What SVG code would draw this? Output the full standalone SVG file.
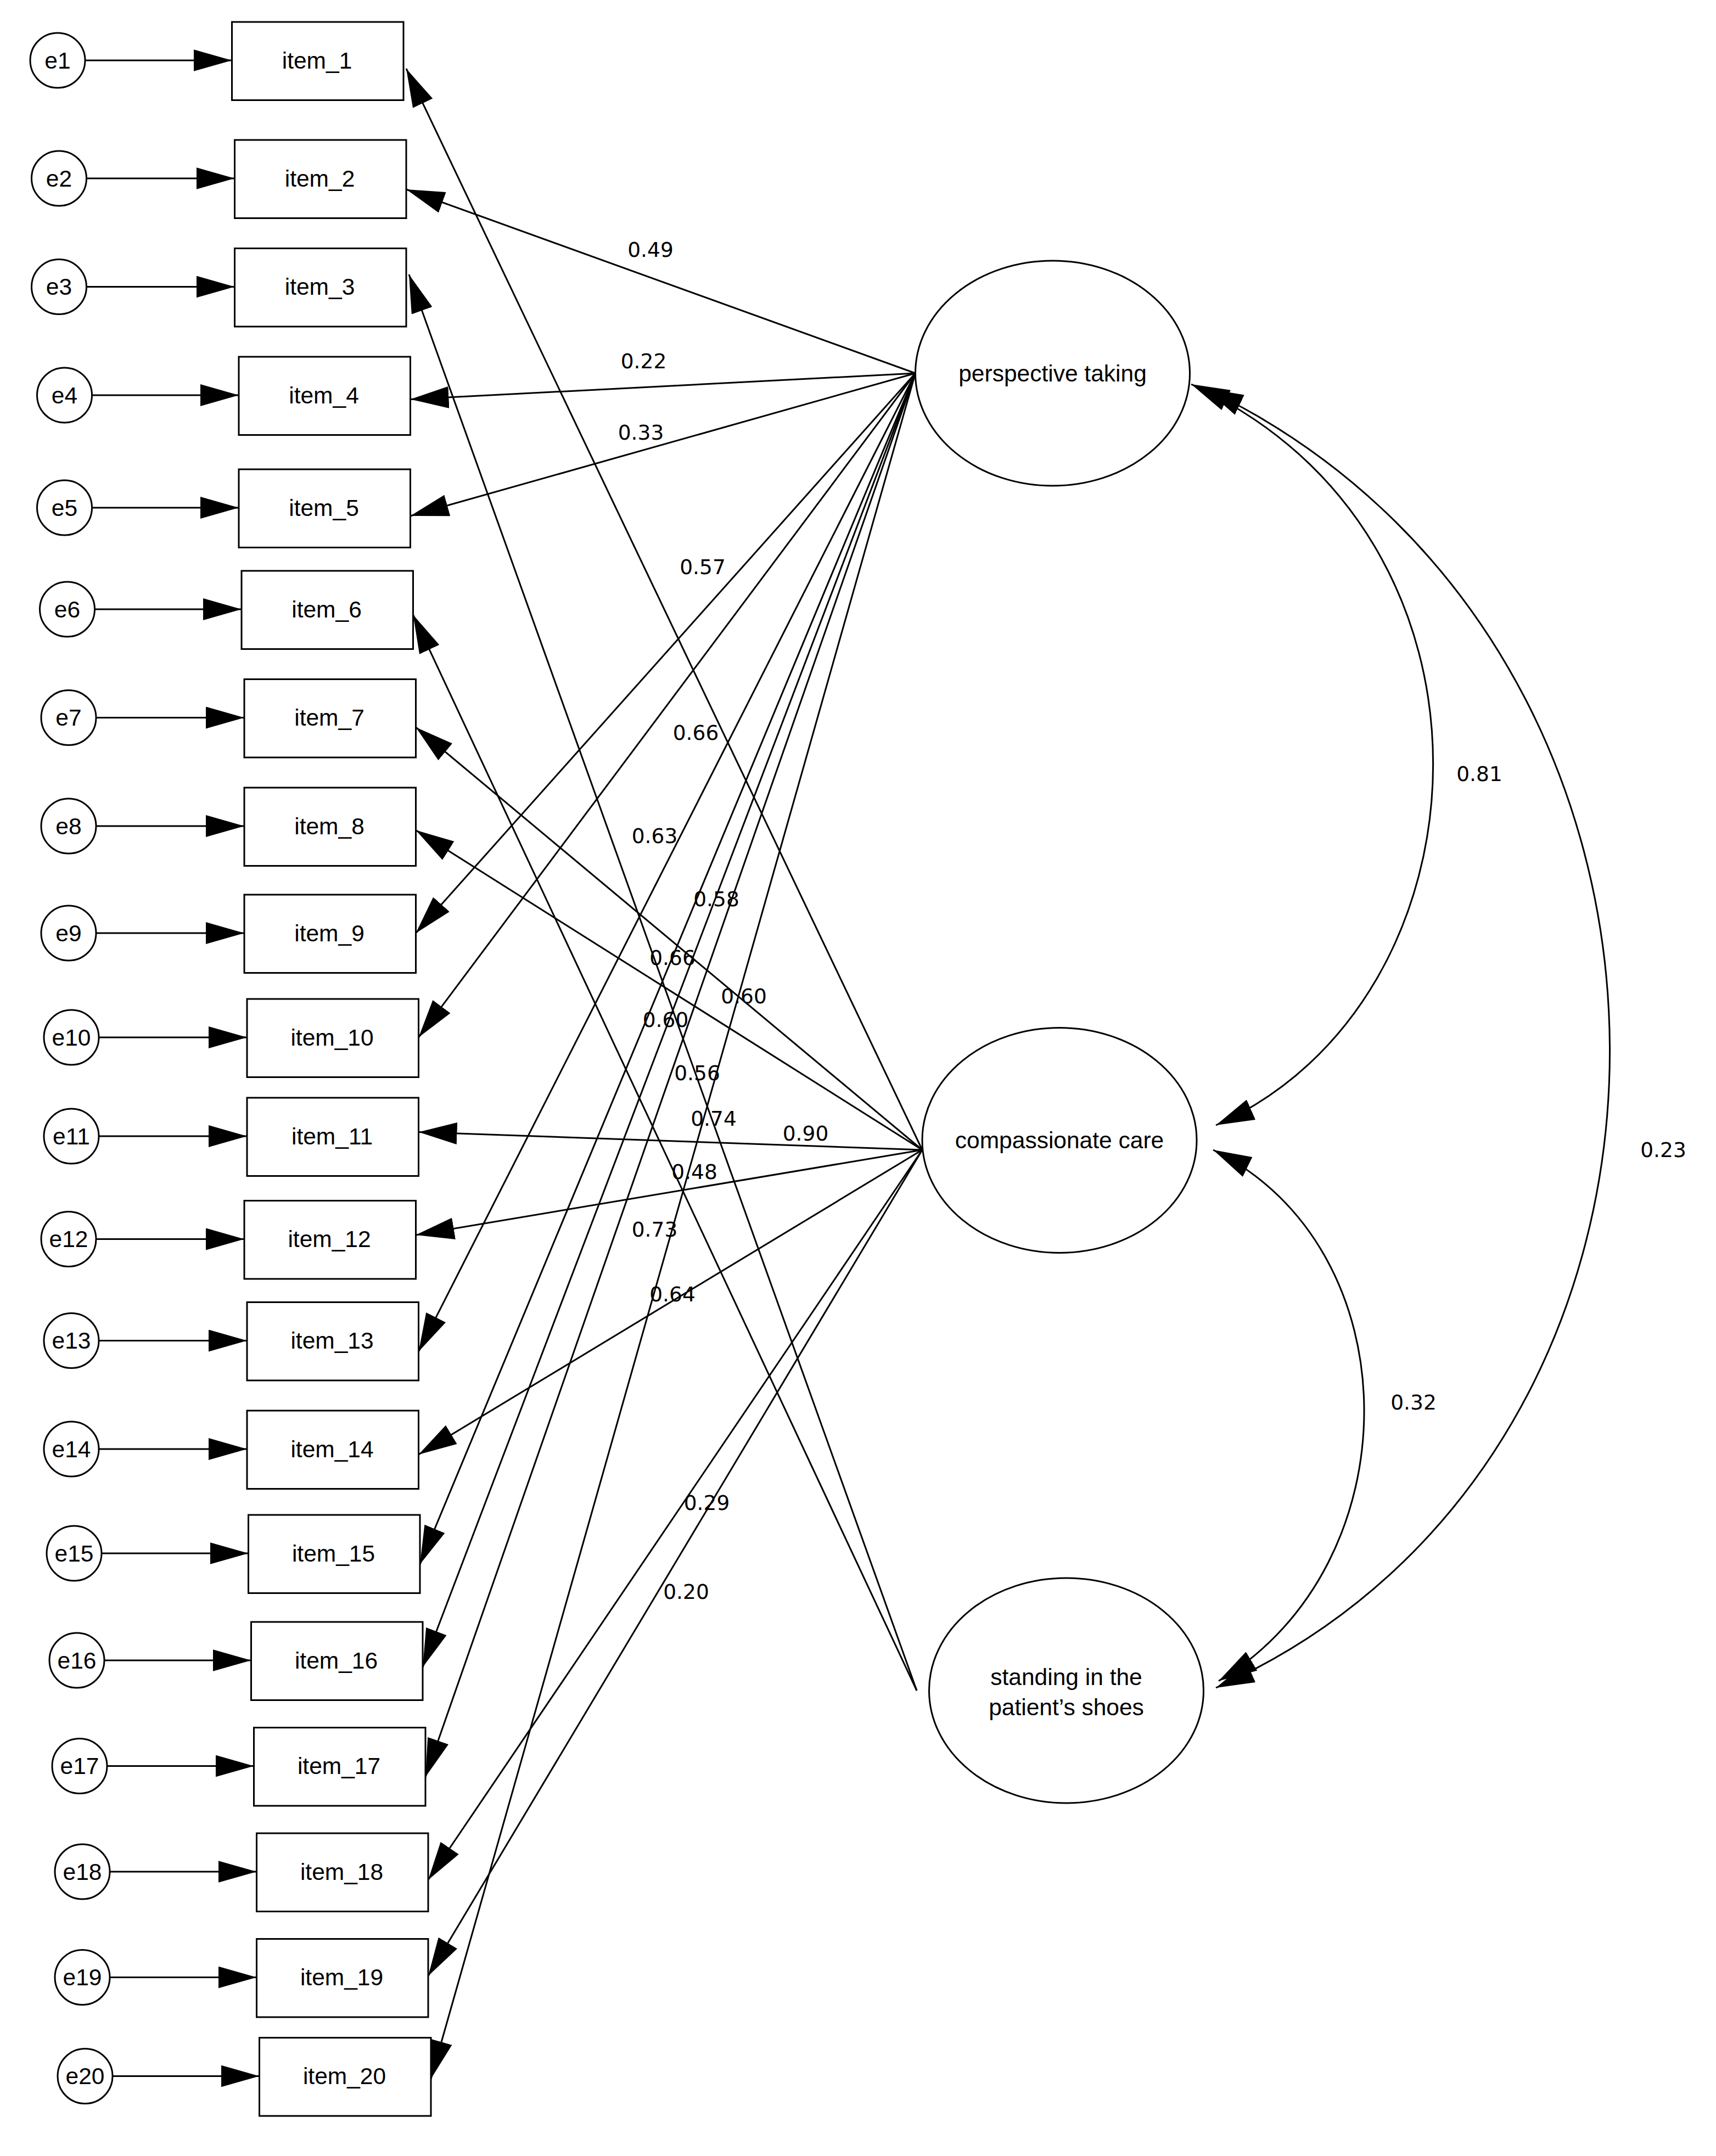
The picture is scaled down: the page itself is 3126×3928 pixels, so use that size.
<svg xmlns="http://www.w3.org/2000/svg" width="3126" height="3928" viewBox="0 0 3126 3928">
<defs>
<marker id="ah" markerWidth="28" markerHeight="16" refX="28" refY="8" orient="auto-start-reverse" markerUnits="userSpaceOnUse"><path d="M0,0 L28,8 L0,16 Z" fill="#000"/></marker>
<style>
.b{fill:#fff;stroke:#000;stroke-width:1.2}
.t{font-family:"Liberation Sans",Arial,sans-serif;font-size:17px;text-anchor:middle;dominant-baseline:central;fill:#000}
.l{font-family:"DejaVu Sans",sans-serif;font-size:15px;text-anchor:middle;dominant-baseline:central;fill:#000}
.c line,.c path{stroke:#000;stroke-width:1.2;fill:none;marker-end:url(#ah)}
.c path{marker-start:url(#ah)}
</style>
</defs>
<rect width="3126" height="3928" fill="#fff"/>
<g transform="scale(2.5)">
<g class="c" id="connectors">
<line x1="62" y1="44" x2="169" y2="44"/><line x1="63" y1="130" x2="171" y2="130"/><line x1="63" y1="209" x2="171" y2="209"/><line x1="67" y1="288" x2="174" y2="288"/><line x1="67" y1="370" x2="174" y2="370"/><line x1="69" y1="444" x2="176" y2="444"/><line x1="70" y1="523" x2="178" y2="523"/><line x1="70" y1="602" x2="178" y2="602"/><line x1="70" y1="680" x2="178" y2="680"/><line x1="72" y1="756" x2="180" y2="756"/><line x1="72" y1="828" x2="180" y2="828"/><line x1="70" y1="903" x2="178" y2="903"/><line x1="72" y1="977" x2="180" y2="977"/><line x1="72" y1="1056" x2="180" y2="1056"/><line x1="74" y1="1132" x2="181" y2="1132"/><line x1="76" y1="1210" x2="183" y2="1210"/><line x1="78" y1="1287" x2="185" y2="1287"/><line x1="80" y1="1364" x2="187" y2="1364"/><line x1="80" y1="1441" x2="187" y2="1441"/><line x1="82" y1="1513" x2="189" y2="1513"/>
<line x1="667" y1="272" x2="296" y2="138"/><line x1="667" y1="272" x2="299" y2="291"/><line x1="667" y1="272" x2="299" y2="376"/><line x1="667" y1="272" x2="303" y2="680"/><line x1="667" y1="272" x2="305" y2="756"/><line x1="667" y1="272" x2="305" y2="985"/><line x1="667" y1="272" x2="306" y2="1140"/><line x1="667" y1="272" x2="308" y2="1215"/><line x1="667" y1="272" x2="310" y2="1295"/><line x1="667" y1="272" x2="314" y2="1515"/>
<line x1="672" y1="838" x2="296" y2="50"/><line x1="672" y1="838" x2="303" y2="530"/><line x1="672" y1="838" x2="303" y2="605"/><line x1="672" y1="838" x2="305" y2="825"/><line x1="672" y1="838" x2="303" y2="900"/><line x1="672" y1="838" x2="305" y2="1060"/><line x1="672" y1="838" x2="312" y2="1370"/><line x1="672" y1="838" x2="312" y2="1440"/>
<line x1="668" y1="1232" x2="298" y2="200"/><line x1="668" y1="1232" x2="301" y2="448"/>
<path d="M868,280 C1110,390 1090,730 886,820"/>
<path d="M878,283 C1270,470 1270,1060 886,1230"/>
<path d="M884,838 C1030,910 1030,1140 888,1225"/>
</g>
<g id="factors">
<ellipse class="b" cx="767" cy="272" rx="100" ry="82"/><text class="t" x="767" y="272">perspective taking</text>
<ellipse class="b" cx="772" cy="831" rx="100" ry="82"/><text class="t" x="772" y="831">compassionate care</text>
<ellipse class="b" cx="777" cy="1232" rx="100" ry="82"/><text class="t" x="777" y="1222">standing in the</text><text class="t" x="777" y="1244">patient’s shoes</text>
</g>
<g id="items">
<g id="item_1"><rect class="b" x="169" y="16" width="125" height="57"/><text class="t" x="231" y="44">item_1</text></g>
<g id="item_2"><rect class="b" x="171" y="102" width="125" height="57"/><text class="t" x="233" y="130">item_2</text></g>
<g id="item_3"><rect class="b" x="171" y="181" width="125" height="57"/><text class="t" x="233" y="209">item_3</text></g>
<g id="item_4"><rect class="b" x="174" y="260" width="125" height="57"/><text class="t" x="236" y="288">item_4</text></g>
<g id="item_5"><rect class="b" x="174" y="342" width="125" height="57"/><text class="t" x="236" y="370">item_5</text></g>
<g id="item_6"><rect class="b" x="176" y="416" width="125" height="57"/><text class="t" x="238" y="444">item_6</text></g>
<g id="item_7"><rect class="b" x="178" y="495" width="125" height="57"/><text class="t" x="240" y="523">item_7</text></g>
<g id="item_8"><rect class="b" x="178" y="574" width="125" height="57"/><text class="t" x="240" y="602">item_8</text></g>
<g id="item_9"><rect class="b" x="178" y="652" width="125" height="57"/><text class="t" x="240" y="680">item_9</text></g>
<g id="item_10"><rect class="b" x="180" y="728" width="125" height="57"/><text class="t" x="242" y="756">item_10</text></g>
<g id="item_11"><rect class="b" x="180" y="800" width="125" height="57"/><text class="t" x="242" y="828">item_11</text></g>
<g id="item_12"><rect class="b" x="178" y="875" width="125" height="57"/><text class="t" x="240" y="903">item_12</text></g>
<g id="item_13"><rect class="b" x="180" y="949" width="125" height="57"/><text class="t" x="242" y="977">item_13</text></g>
<g id="item_14"><rect class="b" x="180" y="1028" width="125" height="57"/><text class="t" x="242" y="1056">item_14</text></g>
<g id="item_15"><rect class="b" x="181" y="1104" width="125" height="57"/><text class="t" x="243" y="1132">item_15</text></g>
<g id="item_16"><rect class="b" x="183" y="1182" width="125" height="57"/><text class="t" x="245" y="1210">item_16</text></g>
<g id="item_17"><rect class="b" x="185" y="1259" width="125" height="57"/><text class="t" x="247" y="1287">item_17</text></g>
<g id="item_18"><rect class="b" x="187" y="1336" width="125" height="57"/><text class="t" x="249" y="1364">item_18</text></g>
<g id="item_19"><rect class="b" x="187" y="1413" width="125" height="57"/><text class="t" x="249" y="1441">item_19</text></g>
<g id="item_20"><rect class="b" x="189" y="1485" width="125" height="57"/><text class="t" x="251" y="1513">item_20</text></g>
</g>
<g id="errors">
<circle class="b" cx="42" cy="44" r="20"/><text class="t" x="42" y="44">e1</text>
<circle class="b" cx="43" cy="130" r="20"/><text class="t" x="43" y="130">e2</text>
<circle class="b" cx="43" cy="209" r="20"/><text class="t" x="43" y="209">e3</text>
<circle class="b" cx="47" cy="288" r="20"/><text class="t" x="47" y="288">e4</text>
<circle class="b" cx="47" cy="370" r="20"/><text class="t" x="47" y="370">e5</text>
<circle class="b" cx="49" cy="444" r="20"/><text class="t" x="49" y="444">e6</text>
<circle class="b" cx="50" cy="523" r="20"/><text class="t" x="50" y="523">e7</text>
<circle class="b" cx="50" cy="602" r="20"/><text class="t" x="50" y="602">e8</text>
<circle class="b" cx="50" cy="680" r="20"/><text class="t" x="50" y="680">e9</text>
<circle class="b" cx="52" cy="756" r="20"/><text class="t" x="52" y="756">e10</text>
<circle class="b" cx="52" cy="828" r="20"/><text class="t" x="52" y="828">e11</text>
<circle class="b" cx="50" cy="903" r="20"/><text class="t" x="50" y="903">e12</text>
<circle class="b" cx="52" cy="977" r="20"/><text class="t" x="52" y="977">e13</text>
<circle class="b" cx="52" cy="1056" r="20"/><text class="t" x="52" y="1056">e14</text>
<circle class="b" cx="54" cy="1132" r="20"/><text class="t" x="54" y="1132">e15</text>
<circle class="b" cx="56" cy="1210" r="20"/><text class="t" x="56" y="1210">e16</text>
<circle class="b" cx="58" cy="1287" r="20"/><text class="t" x="58" y="1287">e17</text>
<circle class="b" cx="60" cy="1364" r="20"/><text class="t" x="60" y="1364">e18</text>
<circle class="b" cx="60" cy="1441" r="20"/><text class="t" x="60" y="1441">e19</text>
<circle class="b" cx="62" cy="1513" r="20"/><text class="t" x="62" y="1513">e20</text>
</g>
<g id="labels">
<text class="l" x="474" y="182">0.49</text><text class="l" x="469" y="263">0.22</text><text class="l" x="467" y="315">0.33</text><text class="l" x="512" y="413">0.57</text><text class="l" x="507" y="534">0.66</text><text class="l" x="477" y="609">0.63</text><text class="l" x="522" y="655">0.58</text><text class="l" x="490" y="698">0.66</text><text class="l" x="542" y="726">0.60</text><text class="l" x="485" y="743">0.60</text><text class="l" x="508" y="782">0.56</text><text class="l" x="520" y="815">0.74</text><text class="l" x="587" y="826">0.90</text><text class="l" x="506" y="854">0.48</text><text class="l" x="477" y="896">0.73</text><text class="l" x="490" y="943">0.64</text><text class="l" x="515" y="1095">0.29</text><text class="l" x="500" y="1160">0.20</text><text class="l" x="1078" y="564">0.81</text><text class="l" x="1030" y="1022">0.32</text><text class="l" x="1212" y="838">0.23</text>
</g>
</g>
</svg>
